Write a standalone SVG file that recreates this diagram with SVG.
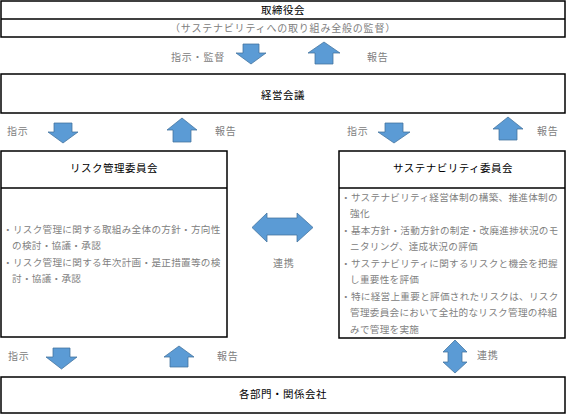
<svg xmlns="http://www.w3.org/2000/svg" width="567" height="415" viewBox="0 0 567 415">
<style>
.box{fill:#fff;stroke:#000;stroke-width:1.5}
.ttl{font-family:"Noto Sans CJK JP","Noto Sans",sans-serif;font-size:10.5px;fill:#000;text-anchor:middle;letter-spacing:0.5px}
.sub{font-family:"Noto Sans CJK JP","Noto Sans",sans-serif;font-size:10px;fill:#808080;text-anchor:middle;letter-spacing:0.8px}
.lbl{font-family:"Noto Sans CJK JP","Noto Sans",sans-serif;font-size:10px;fill:#808080;letter-spacing:0.8px}
.body{font-family:"Noto Sans CJK JP","Noto Sans",sans-serif;font-size:9.6px;fill:#808080;letter-spacing:0.3px}
.arr{fill:#5B9BD5;stroke:#41719C;stroke-width:0.75}
</style>
<g id="board">
<rect class="box" x="1" y="1" width="564" height="36"/>
<line x1="1" y1="19" x2="565" y2="19" stroke="#000" stroke-width="1.5"/>
<text class="ttl" x="283" y="14">取締役会</text>
<text class="sub" x="283" y="31.5">（サステナビリティへの取り組み全般の監督）</text>
</g>
<g id="mgmt">
<rect class="box" x="1" y="74" width="564" height="39"/>
<text class="ttl" x="283" y="98.5">経営会議</text>
</g>
<g id="risk">
<rect class="box" x="1" y="151" width="226" height="186"/>
<line x1="1" y1="188" x2="227" y2="188" stroke="#000" stroke-width="1.5"/>
<text class="ttl" x="114" y="172">リスク管理委員会</text>
<text class="body" x="3" y="232.5">・リスク管理に関する取組み全体の方針・方向性</text>
<text class="body" x="12" y="249">の検討・協議・承認</text>
<text class="body" x="3" y="265.5">・リスク管理に関する年次計画・是正措置等の検</text>
<text class="body" x="12" y="282">討・協議・承認</text>
</g>
<g id="sust">
<rect class="box" x="339" y="151" width="226" height="187"/>
<line x1="339" y1="188" x2="565" y2="188" stroke="#000" stroke-width="1.5"/>
<text class="ttl" x="453" y="172">サステナビリティ委員会</text>
<text class="body" x="341" y="200.5">・サステナビリティ経営体制の構築、推進体制の</text>
<text class="body" x="350" y="217">強化</text>
<text class="body" x="341" y="233.5">・基本方針・活動方針の制定・改廃進捗状況のモ</text>
<text class="body" x="350" y="250">ニタリング、達成状況の評価</text>
<text class="body" x="341" y="266.5">・サステナビリティに関するリスクと機会を把握</text>
<text class="body" x="350" y="283">し重要性を評価</text>
<text class="body" x="341" y="299.5">・特に経営上重要と評価されたリスクは、リスク</text>
<text class="body" x="350" y="316">管理委員会において全社的なリスク管理の枠組</text>
<text class="body" x="350" y="332.5">みで管理を実施</text>
</g>
<g id="depts">
<rect class="box" x="1" y="377" width="564" height="36"/>
<text class="ttl" x="283" y="398">各部門・関係会社</text>
</g>
<g id="connectors">
<polygon class="arr" points="243,44 259,44 259,53 266,53 251,64 236,53 243,53"/>
<polygon class="arr" points="324,42 340,53 333,53 333,64 315,64 315,53 308,53"/>
<polygon class="arr" points="54,123 72,123 72,132 78,132 63,143 48,132 54,132"/>
<polygon class="arr" points="182,118 197,130 191,130 191,142 173,142 173,130 167,130"/>
<polygon class="arr" points="385,123 403,123 403,132 410,132 394,143 378,132 385,132"/>
<polygon class="arr" points="508,117 523,129 517,129 517,140 499,140 499,129 493,129"/>
<polygon class="arr" points="53,348 70,348 70,357 77,357 61.5,369 46,357 53,357"/>
<polygon class="arr" points="179,346 194,357 188,357 188,367 170,367 170,357 164,357"/>
<polygon class="arr" points="252,227.5 267,213 267,218 297,218 297,213 313,227.5 297,242 297,235 267,235 267,242"/>
<polygon class="arr" points="455,340 467,352 462,352 462,362 467,362 455,373 443,362 448,362 448,352 443,352"/>
<text class="lbl" x="171" y="61">指示・監督</text>
<text class="lbl" x="367" y="61">報告</text>
<text class="lbl" x="7" y="135">指示</text>
<text class="lbl" x="215" y="135">報告</text>
<text class="lbl" x="347" y="135">指示</text>
<text class="lbl" x="537" y="135">報告</text>
<text class="lbl" x="273" y="266.5">連携</text>
<text class="lbl" x="8" y="359.5">指示</text>
<text class="lbl" x="217" y="359.5">報告</text>
<text class="lbl" x="477" y="359">連携</text>
</g>
</svg>
